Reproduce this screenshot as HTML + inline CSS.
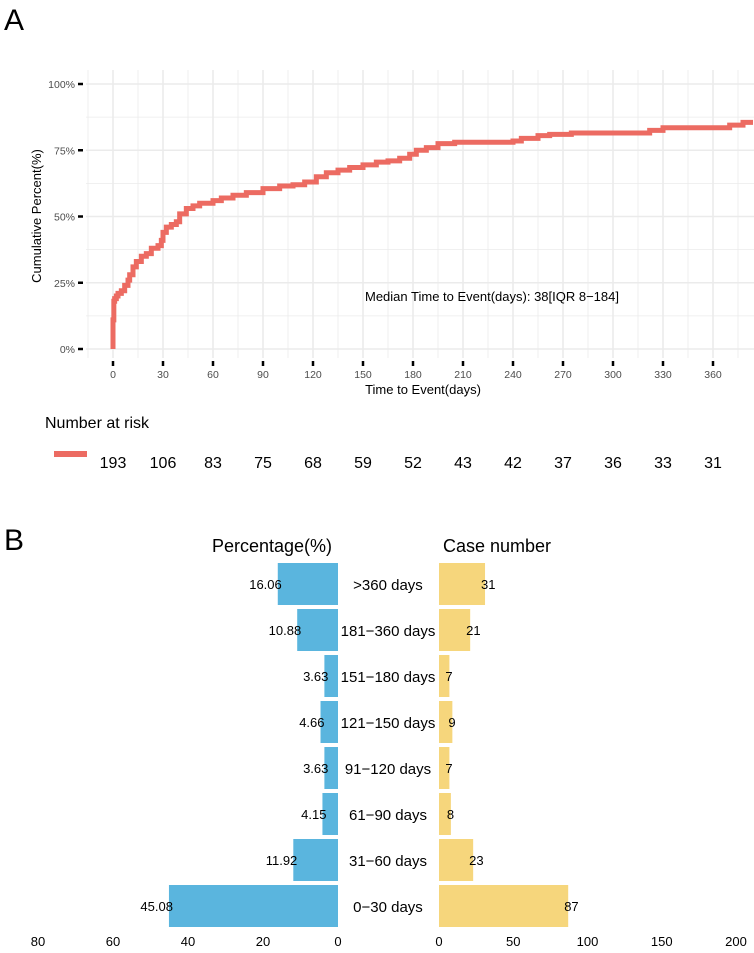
<!DOCTYPE html>
<html><head><meta charset="utf-8"><style>
body{margin:0;background:#fff;font-family:"Liberation Sans",Arial,sans-serif}
svg text{font-family:"Liberation Sans",Arial,sans-serif}
</style></head><body>
<svg id="chart" width="754" height="948" viewBox="0 0 754 948" xmlns="http://www.w3.org/2000/svg">
<text x="4" y="30" font-size="30">A</text>
<g id="topg"></g>
<text x="4" y="550" font-size="30">B</text>
<g id="botg"></g>
</svg>
<script>
const kmDays=[0,0,0.5,1,2,3,5,7,9,10,12,14,17,20,23,27,29,30,32,35,38,40,44,48,52,60,65,72,80,90,100,108,115,122,128,135,142,150,158,165,172,178,182,188,195,205,240,245,255,262,275,318,322,330,366,370,378,386];
const kmPct=[0,11,18,19,20,21,22,24,26,28,31,33,35,36,38,39,41,44,46,47,48,51,53,54,55,56,57,58,59,60.5,61.5,62,63,65,66.5,67.5,68.5,69.5,70.5,71,72,73.5,75,76,77.5,78,78.5,79.5,80.5,81,81.5,81.5,82.5,83.5,83.5,84.5,85.5,85.5];
const xTicks=[0,30,60,90,120,150,180,210,240,270,300,330,360];
const yTicks=[0,25,50,75,100];
const yTickLabels=["0%","25%","50%","75%","100%"];
const atRisk=[193,106,83,75,68,59,52,43,42,37,36,33,31];
const cats=[">360 days","181\u2212360 days","151\u2212180 days","121\u2212150 days","91\u2212120 days","61\u221290 days","31\u221260 days","0\u221230 days"];
const pctVals=[16.06,10.88,3.63,4.66,3.63,4.15,11.92,45.08];
const pctLabels=["16.06","10.88","3.63","4.66","3.63","4.15","11.92","45.08"];
const caseVals=[31,21,7,9,7,8,23,87];
const pctTicks=[80,60,40,20,0];
const caseTicks=[0,50,100,150,200];
const NS="http://www.w3.org/2000/svg";
function mk(p,t,a,txt){const e=document.createElementNS(NS,t);for(const k in a)e.setAttribute(k,a[k]);if(txt!==undefined)e.textContent=txt;p.appendChild(e);return e;}
const gTop=document.getElementById('topg'),gBot=document.getElementById('botg');
const X=d=>113+d*50/30, Y=p=>349-p*2.65;
for(let d=-15;d<=390;d+=15){const g=mk(gTop,'line',{x1:X(d),x2:X(d),y1:70,y2:358,stroke:'#ebebeb','stroke-width':d%30===0?1.6:0.8});

}
for(let p=-12.5;p<=105;p+=12.5){if(Y(p)<70||Y(p)>358)continue;const g=mk(gTop,'line',{x1:86,x2:754,y1:Y(p),y2:Y(p),stroke:'#ebebeb','stroke-width':p%25===0?1.6:0.8});

}
yTicks.forEach((v,i)=>{const t=mk(gTop,'line',{x1:78,x2:83,y1:Y(v),y2:Y(v),stroke:'#000','stroke-width':2.5});


const l=mk(gTop,'text',{x:75,y:Y(v)+4,'font-size':10.5,fill:'#4d4d4d','text-anchor':'end'},yTickLabels[i]);

});
xTicks.forEach(v=>{const t=mk(gTop,'line',{x1:X(v),x2:X(v),y1:361,y2:366,stroke:'#000','stroke-width':2.5});


const l=mk(gTop,'text',{x:X(v),y:378,'font-size':10.5,fill:'#4d4d4d','text-anchor':'middle'},v);

});
let d='M'+X(kmDays[0])+','+Y(kmPct[0]);
for(let i=1;i<kmDays.length;i++){d+=' H'+X(Math.min(kmDays[i],384))+' V'+Y(kmPct[i]);}
const c=mk(gTop,'path',{d:d,fill:'none',stroke:'#ec6b62','stroke-width':5});


const mt=mk(gTop,'text',{x:365,y:301,'font-size':13},'Median Time to Event(days): 38[IQR 8\u2212184]');


const xt=mk(gTop,'text',{x:423,y:394,'font-size':13,'text-anchor':'middle'},'Time to Event(days)');


const yt=mk(gTop,'text',{x:0,y:0,'font-size':13,'text-anchor':'middle',transform:'translate(41,216) rotate(-90)'},'Cumulative Percent(%)');


const nr=mk(gTop,'text',{x:45,y:428,'font-size':16},'Number at risk');


const rl=mk(gTop,'line',{x1:54,x2:87,y1:454,y2:454,stroke:'#ec6b62','stroke-width':6});


atRisk.forEach((v,i)=>{const t=mk(gTop,'text',{x:X(xTicks[i]),y:468,'font-size':16,'text-anchor':'middle'},v);

});
const PX=v=>338-v*3.75, CX=v=>439+v*1.485;
const rowY=i=>584+i*46;
const h1=mk(gBot,'text',{x:272,y:552,'font-size':18,'text-anchor':'middle'},'Percentage(%)');


const h2=mk(gBot,'text',{x:497,y:552,'font-size':18,'text-anchor':'middle'},'Case number');


cats.forEach((cat,i)=>{
const b=mk(gBot,'rect',{x:PX(pctVals[i]),y:rowY(i)-21,width:PX(0)-PX(pctVals[i]),height:42,fill:'#5ab5de'});


const pl=mk(gBot,'text',{x:PX(pctVals[i])+4,y:rowY(i)+5,'font-size':13,'text-anchor':'end'},pctLabels[i]);


const cb=mk(gBot,'rect',{x:CX(0),y:rowY(i)-21,width:CX(caseVals[i])-CX(0),height:42,fill:'#f6d67c'});


const cl=mk(gBot,'text',{x:CX(caseVals[i])-4,y:rowY(i)+5,'font-size':13},caseVals[i]);


const ct=mk(gBot,'text',{x:388,y:rowY(i)+6,'font-size':15,'text-anchor':'middle'},cat);

});
pctTicks.forEach(v=>{const t=mk(gBot,'text',{x:PX(v),y:946,'font-size':13,'text-anchor':'middle'},v);

});
caseTicks.forEach(v=>{const t=mk(gBot,'text',{x:Math.min(CX(v),740),y:946,'font-size':13,'text-anchor':'middle'},v);

});
</script>
</body></html>
